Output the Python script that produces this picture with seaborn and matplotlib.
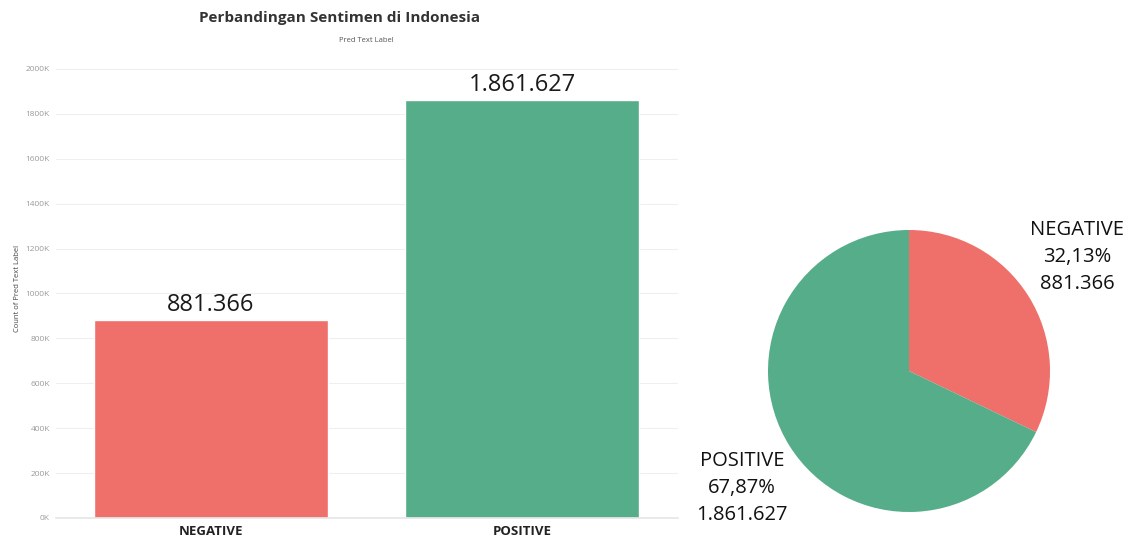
import matplotlib
matplotlib.use("Agg")
import matplotlib.pyplot as plt
import seaborn as sns
from matplotlib.ticker import FuncFormatter, MultipleLocator

# data
labels = ["NEGATIVE", "POSITIVE"]
counts = [881366, 1861627]
percents = ["32,13%", "67,87%"]
colors = ["#EF6F6A", "#56AD8A"]

W, H = 1132, 537


def fmt_id(n):
    # Indonesian thousands separator
    return f"{n:,}".replace(",", ".")


sns.set_theme(style="whitegrid")
plt.rcParams["font.family"] = ["Open Sans", "DejaVu Sans"]

fig = plt.figure(figsize=(W / 100, H / 100), dpi=100)
fig.patch.set_facecolor("white")

# ── bar chart ───────────────────────────────
ax = fig.add_axes([55.5 / W, 19 / H, 622 / W, 458 / H])
sns.barplot(x=labels, y=counts, hue=labels, palette=colors, width=0.75,
            legend=False, saturation=1, ax=ax)
ax.set_xlim(-0.5, 1.5)
ax.set_ylim(0, 2040000)
ax.yaxis.set_major_locator(MultipleLocator(200000))
ax.yaxis.set_major_formatter(FuncFormatter(lambda v, p: f"{v / 1000:.0f}K"))
ax.grid(axis="y", color="#efefef", linewidth=0.8)
ax.grid(axis="x", visible=False)
for s in ["top", "right", "left"]:
    ax.spines[s].set_visible(False)
ax.spines["bottom"].set_color("#e6e6e6")
ax.tick_params(axis="y", labelsize=6, labelcolor="#9a9a9a", length=0, pad=4)
ax.tick_params(axis="x", labelsize=9.5, labelcolor="#222222", length=0, pad=5)
for t in ax.get_xticklabels():
    t.set_fontweight("bold")
ax.set_xlabel("")
ax.set_ylabel("Count of Pred Text Label", fontsize=5.5, color="#444444", labelpad=3)

for cont in ax.containers:
    vals = [fmt_id(int(round(b.get_height()))) for b in cont]
    ax.bar_label(cont, labels=vals, padding=2, fontsize=17, color="#1a1a1a",
                 fontweight="medium")

fig.text(340 / W, 1 - 18 / H, "Perbandingan Sentimen di Indonesia",
         ha="center", va="center", fontsize=11, fontweight="bold", color="#333333")
fig.text(366 / W, 1 - 41 / H, "Pred Text Label",
         ha="center", va="center", fontsize=5.5, color="#555555")

# ── pie chart ───────────────────────────────
R = 141
cx, cy = 909, 371
pax = fig.add_axes([(cx - R) / W, (H - cy - R) / H, 2 * R / W, 2 * R / H])
pax.pie(counts, colors=colors, startangle=90, counterclock=False,
        wedgeprops=dict(linewidth=0))
pax.set_xlim(-1.0, 1.0)
pax.set_ylim(-1.0, 1.0)
pax.set_aspect("equal")

fig.text(1077 / W, 1 - 257 / H,
         f"{labels[0]}\n{percents[0]}\n{fmt_id(counts[0])}",
         ha="center", va="center", fontsize=14.5, color="#111111", linespacing=1.45)
fig.text(742 / W, 1 - 488 / H,
         f"{labels[1]}\n{percents[1]}\n{fmt_id(counts[1])}",
         ha="center", va="center", fontsize=14.5, color="#111111", linespacing=1.45)

fig.savefig("out.png", dpi=100, facecolor="white")
